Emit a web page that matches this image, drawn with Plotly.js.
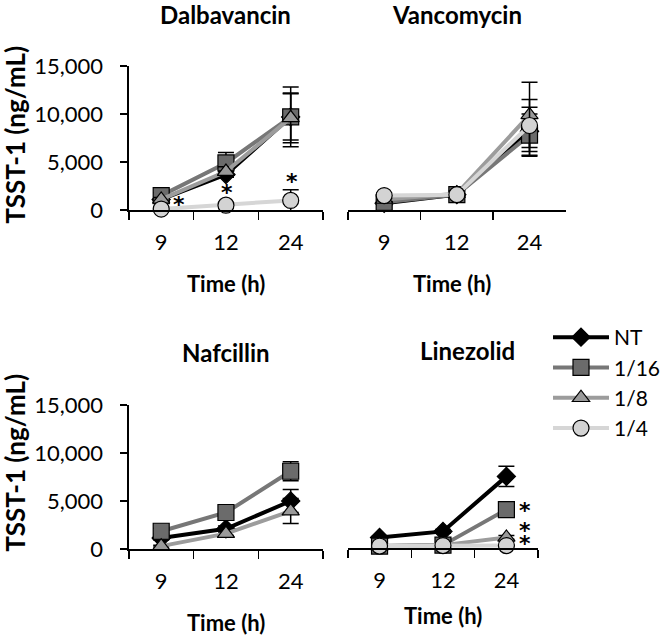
<!DOCTYPE html>
<html>
<head>
<meta charset="utf-8">
<script src="https://cdn.plot.ly/plotly-3.0.1.min.js"></script>
<style>html,body{margin:0;padding:0;background:#fff;}#chart{width:666px;height:635px;}</style>
</head>
<body>
<div id="chart"></div>
<script>
// ---- data ----
const timeLabels = ["9", "12", "24"];
const seriesNames = ["NT", "1/16", "1/8", "1/4"];
const panelTitles = ["Dalbavancin", "Vancomycin", "Nafcillin", "Linezolid"];

// Dalbavancin
const dalbNT = [1100, 3700, 9700];      const dalbNTErr = [200, 300, 2400];
const dalb16 = [1500, 4900, 9700];      const dalb16Err = [300, 1100, 3100];
const dalb8  = [1100, 4000, 9600];      const dalb8Err  = [200, 500, 2600];
const dalb4  = [100, 500, 1000];        const dalb4Err  = [50, 150, 1100];
// Vancomycin
const vancNT = [700, 1600, 8200];       const vancNTErr = [200, 400, 2500];
const vanc16 = [800, 1600, 7800];       const vanc16Err = [300, 400, 2200];
const vanc8  = [1100, 1700, 9900];      const vanc8Err  = [300, 300, 3400];
const vanc4  = [1500, 1600, 8800];      const vanc4Err  = [300, 300, 2700];
// Nafcillin
const nafNT = [1150, 2100, 5000];       const nafNTErr = [200, 300, 1200];
const naf16 = [1850, 3800, 8100];       const naf16Err = [300, 300, 1000];
const naf8  = [300, 1600, 3950];        const naf8Err  = [100, 200, 1300];
const naf4  = [null, null, null];       const naf4Err  = [0, 0, 0];
// Linezolid
const linNT = [1100, 1730, 7460];       const linNTErr = [100, 200, 1050];
const lin16 = [200, 300, 4000];         const lin16Err = [50, 50, 300];
const lin8  = [200, 300, 1100];         const lin8Err  = [50, 50, 200];
const lin4  = [200, 250, 250];          const lin4Err  = [50, 50, 100];

// significance markers: [panel, category index, y value]
const starPanels = [0, 0, 0, 3, 3, 3];
const starCats   = [0, 1, 2, 2, 2, 2];
const starY      = [600, 1800, 3000, 3900, 1800, 450];

// ---- styles ----
const lineColors   = ["#000000", "#777777", "#9c9c9c", "#d6d6d6"];
const markerFills  = ["#000000", "#6b6b6b", "#9a9a9a", "#d3d3d3"];
const markerSymbols= ["diamond", "square", "triangle-up", "circle"];
const markerSizes  = [14, 16, 15, 16];
const FONT = "Lato, 'Open Sans', sans-serif";

const panelData = [
  [[dalbNT, dalbNTErr], [dalb16, dalb16Err], [dalb8, dalb8Err], [dalb4, dalb4Err]],
  [[vancNT, vancNTErr], [vanc16, vanc16Err], [vanc8, vanc8Err], [vanc4, vanc4Err]],
  [[nafNT, nafNTErr], [naf16, naf16Err], [naf8, naf8Err], [naf4, naf4Err]],
  [[linNT, linNTErr], [lin16, lin16Err], [lin8, lin8Err], [lin4, lin4Err]]
];

const W = 666, H = 635;
const px = v => v / W;
const py = v => 1 - v / H;
// panel geometry in pixels: [left, right, top, bottom]
const geom = [
  [130, 326, 66, 210],
  [351, 571, 66, 210],
  [130, 326, 405, 549],
  [351, 543, 404, 548]
];

const traces = [];
panelData.forEach((panel, p) => {
  const ax = p === 0 ? "" : String(p + 1);
  panel.forEach((s, i) => {
    traces.push({
      type: "scatter", mode: "lines+markers",
      x: timeLabels, y: s[0],
      xaxis: "x" + ax, yaxis: "y" + ax,
      name: seriesNames[i], legendgroup: seriesNames[i],
      showlegend: p === 0,
      line: {color: lineColors[i], width: 4},
      marker: {symbol: markerSymbols[i], size: markerSizes[i], color: markerFills[i],
               line: {color: "#000000", width: 1.2}},
      error_y: {type: "data", array: s[1], visible: true, color: "#000000", thickness: 1.5, width: 8},
      cliponaxis: false,
      hoverinfo: "skip"
    });
  });
});

const layout = {
  width: W, height: H,
  margin: {l: 0, r: 0, t: 0, b: 0},
  paper_bgcolor: "#ffffff", plot_bgcolor: "rgba(0,0,0,0)",
  font: {family: FONT, size: 21, color: "#000000"},
  showlegend: true,
  legend: {
    x: px(553), y: py(317), xanchor: "left", yanchor: "top",
    font: {family: FONT, size: 21, color: "#000000"},
    itemwidth: 56, traceorder: "normal",
    bgcolor: "rgba(0,0,0,0)"
  },
  annotations: [],
  shapes: []
};

geom.forEach((g, p) => {
  const ax = p === 0 ? "" : String(p + 1);
  const leftPanel = (p === 0 || p === 2);
  layout["xaxis" + ax] = {
    domain: [px(g[0]), px(g[1])],
    anchor: "y" + ax,
    type: "category",
    range: [-0.5, 2.5],
    showline: true, linecolor: "#000000", linewidth: 1.5,
    ticks: "outside", ticklen: 8, tickwidth: 1.5, tickcolor: "#000000",
    tickson: "boundaries",
    showgrid: false, zeroline: false,
    tickfont: {family: FONT, size: 22, color: "#000000"},
    ticklabelstandoff: 12,
    fixedrange: true
  };
  layout["yaxis" + ax] = {
    domain: [py(g[3]), py(g[2])],
    anchor: "x" + ax,
    range: [0, 15000],
    tickvals: [0, 5000, 10000, 15000],
    ticktext: ["0", "5,000", "10,000", "15,000"],
    showline: leftPanel, linecolor: "#000000", linewidth: 1.5,
    ticks: leftPanel ? "outside" : "", ticklen: 7, tickwidth: 1.5, tickcolor: "#000000",
    showticklabels: leftPanel,
    showgrid: false, zeroline: false,
    tickfont: {family: FONT, size: 22, color: "#000000"},
    ticklabelstandoff: 13,
    fixedrange: true
  };
  // panel title
  layout.annotations.push({
    text: "<b>" + panelTitles[p] + "</b>", xref: "paper", yref: "paper",
    x: px((g[0] + g[1]) / 2 + (p === 3 ? 25 : 0)),
    y: py(g[2] - (p < 2 ? 51 : 53)),
    xanchor: "center", yanchor: "middle", showarrow: false,
    font: {family: FONT, size: 24, color: "#000000"}
  });
  // x title
  layout.annotations.push({
    text: "<b>Time (h)</b>", xref: "paper", yref: "paper",
    x: px((g[0] + g[1]) / 2 + (p === 1 ? -5 : 0)),
    y: py(g[3] + (p === 3 ? 67 : 73)),
    xanchor: "center", yanchor: "middle", showarrow: false,
    font: {family: FONT, size: 22, color: "#000000"}
  });
});

// y titles
[[135], [463]].forEach(c => {
  layout.annotations.push({
    text: "<b>TSST-1 (ng/mL)</b>", xref: "paper", yref: "paper",
    x: px(15), y: py(c[0]), xanchor: "center", yanchor: "middle",
    textangle: -90, showarrow: false,
    font: {family: FONT, size: 26, color: "#000000"}
  });
});

// asterisks
starPanels.forEach((p, k) => {
  const ax = p === 0 ? "" : String(p + 1);
  layout.annotations.push({
    text: "<b>*</b>", xref: "x" + ax, yref: "y" + ax,
    x: starCats[k] + (p === 3 ? 0.3 : (k === 0 ? 0.27 : 0.02)),
    y: starY[k], xanchor: "center", yanchor: "middle", showarrow: false,
    borderpad: 0,
    font: {family: "'DejaVu Sans', sans-serif", size: 22, color: "#000000"}
  });
});

Plotly.newPlot("chart", traces, layout, {displayModeBar: false, staticPlot: true});
</script>
</body>
</html>
